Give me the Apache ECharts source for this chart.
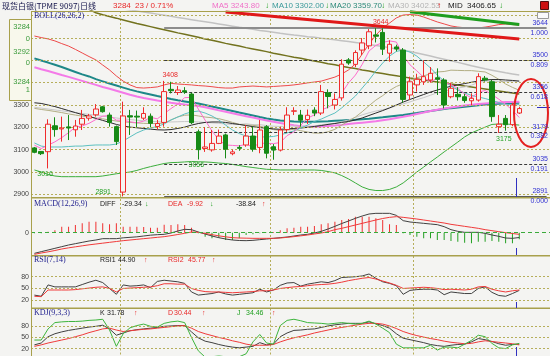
<!DOCTYPE html>
<html><head><meta charset="utf-8">
<script src="https://cdn.jsdelivr.net/npm/echarts@6/dist/echarts.min.js"></script>
<style>html,body{margin:0;padding:0;background:#f4f4f2;}#c{width:550px;height:356px;}</style>
</head><body><div id="c"></div>
<script>
const N = 72;
const categories = Array.from({length: 76}, (_, i) => 'D' + (i + 1));

const opens  = [3108,3092,3091,3207,3193,3202,3189,3214,3241,3256,3292,3255,3203,2910,3252,3250,3241,3250,3204,3222,3370,3356,3364,3349,3180,3105,3099,3128,3166,3082,3110,3121,3161,3110,3203,3113,3098,3190,3272,3255,3235,3277,3264,3355,3300,3332,3502,3482,3546,3565,3614,3625,3532,3560,3546,3345,3390,3404,3412,3422,3412,3337,3348,3337,3319,3322,3420,3404,3203,3240,3212,3264];
const closes = [3088,3082,3214,3190,3197,3197,3206,3240,3251,3282,3270,3222,3136,3251,3246,3246,3262,3218,3217,3360,3364,3367,3358,3221,3100,3112,3128,3161,3102,3090,3106,3161,3102,3188,3084,3098,3188,3255,3274,3232,3254,3264,3360,3338,3325,3483,3488,3535,3578,3628,3608,3550,3572,3551,3325,3404,3415,3427,3442,3415,3300,3375,3337,3320,3330,3427,3412,3248,3214,3212,3300,3284];
const highs  = [3112,3094,3236,3245,3248,3255,3233,3278,3260,3304,3296,3266,3208,3315,3278,3275,3290,3262,3233,3408,3404,3385,3380,3355,3190,3200,3188,3190,3172,3100,3120,3210,3203,3233,3210,3125,3203,3290,3290,3278,3280,3290,3390,3370,3352,3505,3510,3545,3600,3640,3644,3644,3590,3570,3555,3427,3440,3500,3470,3464,3420,3400,3380,3350,3352,3442,3430,3412,3255,3255,3310,3292];
const lows   = [3084,3076,3016,3158,3136,3143,3158,3188,3230,3248,3266,3203,3121,2891,3166,3200,3233,3200,3190,3203,3352,3345,3350,3215,3056,3090,3091,3125,3061,3075,3095,3113,3091,3084,3061,3055,3092,3180,3255,3203,3215,3250,3255,3285,3280,3320,3480,3470,3524,3550,3580,3524,3494,3540,3310,3322,3360,3390,3400,3345,3285,3330,3320,3310,3300,3315,3405,3225,3175,3185,3205,3260];

const bollUp = [3609,3602,3596,3587,3575,3564,3549,3533,3517,3502,3479,3457,3430,3407,3390,3378,3376,3378,3381,3390,3397,3394,3392,3390,3387,3385,3382,3378,3376,3376,3381,3383,3385,3383,3381,3383,3385,3387,3390,3394,3399,3403,3407,3416,3425,3439,3457,3484,3528,3573,3613,3645,3667,3690,3703,3705,3703,3694,3683,3672,3663,3654,3649,3646,3644,3645,3649,3654,3660,3663,3660,3658];
const bollLow = [3009,3000,2989,2982,2979,2979,2979,2979,2979,2979,2982,2987,2992,2996,3000,3007,3016,3024,3031,3038,3042,3043,3045,3047,3046,3045,3043,3040,3038,3034,3029,3024,3020,3016,3012,3011,3009,3009,3009,3009,3009,3009,3007,3002,2996,2984,2969,2951,2933,2922,2917,2917,2922,2933,2951,2975,3000,3022,3045,3067,3090,3112,3134,3157,3175,3188,3201,3213,3215,3215,3213,3210];
const bollMid = [3310,3307,3300,3293,3284,3275,3266,3257,3249,3240,3231,3222,3213,3206,3201,3198,3195,3192,3189,3188,3190,3195,3201,3210,3217,3222,3224,3224,3222,3217,3213,3208,3203,3199,3196,3193,3191,3193,3195,3197,3200,3204,3208,3213,3217,3222,3226,3233,3242,3253,3264,3275,3287,3300,3313,3325,3336,3347,3358,3367,3376,3384,3390,3396,3402,3407,3412,3414,3414,3412,3410,3407];
const ma5 = [3120,3105,3120,3135,3154,3176,3201,3206,3218,3235,3250,3253,3232,3232,3225,3220,3228,3245,3238,3261,3284,3305,3333,3334,3282,3232,3184,3144,3121,3119,3117,3124,3112,3129,3128,3127,3132,3163,3180,3209,3241,3256,3277,3290,3308,3354,3399,3434,3482,3542,3567,3580,3587,3582,3521,3480,3453,3424,3403,3421,3400,3392,3374,3349,3332,3358,3365,3347,3326,3303,3277,3244];
const ma10 = [3130,3116,3112,3112,3112,3114,3116,3116,3119,3121,3121,3121,3125,3139,3157,3175,3188,3197,3204,3215,3233,3246,3260,3269,3273,3264,3251,3233,3210,3188,3172,3161,3157,3157,3157,3159,3166,3175,3184,3197,3210,3226,3237,3251,3264,3287,3313,3340,3376,3412,3452,3488,3519,3540,3546,3537,3519,3493,3466,3434,3407,3385,3367,3354,3343,3336,3329,3320,3311,3304,3300,3302];
const ma20 = [3285,3280,3276,3271,3266,3260,3255,3250,3246,3242,3238,3233,3228,3225,3222,3220,3218,3217,3217,3219,3233,3247,3254,3256,3251,3246,3243,3239,3231,3222,3213,3210,3209,3205,3197,3190,3186,3188,3191,3185,3179,3174,3174,3180,3191,3210,3228,3246,3270,3297,3322,3342,3365,3383,3395,3411,3422,3431,3439,3448,3450,3456,3455,3454,3454,3451,3448,3433,3415,3394,3379,3366];
const ma30 = [3290,3286,3282,3278,3274,3270,3266,3262,3258,3254,3250,3246,3242,3238,3235,3232,3229,3227,3225,3224,3224,3225,3226,3226,3224,3222,3220,3218,3215,3213,3213,3216,3212,3212,3208,3205,3204,3205,3206,3204,3203,3205,3212,3215,3218,3226,3233,3244,3256,3265,3273,3279,3286,3297,3305,3314,3324,3333,3344,3355,3361,3369,3376,3381,3389,3400,3407,3407,3405,3405,3406,3407];
const longTeal = [3509,3499,3490,3480,3470,3459,3448,3437,3428,3416,3406,3396,3387,3378,3369,3361,3354,3347,3340,3334,3327,3321,3316,3311,3307,3300,3293,3287,3280,3273,3266,3260,3253,3246,3240,3235,3231,3228,3226,3225,3225,3225,3226,3227,3229,3231,3233,3234,3236,3238,3242,3245,3249,3252,3255,3260,3264,3269,3273,3278,3282,3286,3289,3292,3296,3299,3302,3304,3306,3308,3309,3310];
const longPink = [3469,3460,3452,3443,3434,3426,3417,3408,3399,3390,3381,3373,3364,3355,3346,3338,3331,3326,3320,3315,3310,3306,3302,3299,3296,3290,3283,3276,3270,3263,3256,3250,3244,3237,3231,3225,3219,3214,3209,3205,3203,3203,3204,3206,3208,3211,3215,3218,3221,3224,3227,3232,3236,3242,3247,3253,3260,3266,3273,3279,3284,3289,3293,3298,3301,3304,3307,3309,3311,3313,3314,3315];
const longOlive = [3870,3852,3834,3816,3798,3780,3762,3745,3728,3713,3704,3696,3689,3681,3673,3665,3658,3651,3644,3637,3630,3623,3617,3610,3603,3596,3590,3583,3576,3570,3564,3557,3551,3545,3539,3532,3526,3520,3514,3509,3503,3497,3491,3485,3480,3474,3468,3463,3457,3452,3446,3441,3436,3431,3426,3421,3417,3412,3407,3403,3399,3394,3390,3385,3381,3376,3372,3367,3363,3358,3354,3349];
const longGray = [3795,3790,3785,3780,3775,3770,3765,3760,3755,3750,3745,3740,3735,3730,3726,3721,3716,3712,3707,3702,3697,3692,3687,3682,3677,3673,3668,3663,3658,3653,3648,3644,3639,3634,3630,3626,3621,3617,3613,3610,3606,3603,3599,3596,3592,3588,3584,3580,3576,3571,3567,3562,3556,3551,3545,3540,3533,3526,3519,3512,3505,3498,3491,3484,3476,3469,3462,3456,3450,3444,3439,3434];

const diff = [-124,-114,-104,-94,-84,-74,-66,-58,-50,-44,-36,-36,-36,-31,-28,-25,-20,-15,-12,-10,-2,10,20,18,4,-8,-20,-30,-38,-44,-47,-48,-46,-42,-38,-34,-30,-26,-20,-14,-10,-2,8,22,38,55,70,86,100,112,116,116,116,104,72,64,60,56,52,48,36,18,8,2,2,2,-4,-14,-22,-32,-34,-29];
const dea = [-130,-122,-115,-107,-98,-91,-85,-79,-73,-68,-63,-58,-53,-48,-44,-40,-36,-32,-28,-24,-18,-11,-4,4,2,-4,-12,-19,-25,-30,-32,-33,-34,-34,-34,-34,-32,-28,-24,-19,-14,-8,-2,6,18,26,36,46,56,66,76,85,92,96,92,87,82,76,70,64,58,50,44,38,32,26,18,12,6,0,-5,-10];
const macdHist = [-3,-3,5,15,36,36,46,56,66,66,56,50,56,36,36,36,34,30,30,48,46,50,46,30,-4,-24,-34,-30,-44,-44,-34,-14,-10,-4,-2,4,15,26,30,36,36,40,50,56,66,76,82,96,96,96,86,76,50,46,-4,-14,-24,-34,-34,-44,-44,-50,-54,-60,-64,-54,-54,-50,-54,-64,-64,-39];

const rsi1 = [33,30,59,54,54,54,54,60,66,71,65,50,35,59,56,57,59,52,68,71,69,67,63,41,33,35,37,41,36,33,35,37,39,48,41,46,58,64,65,56,61,64,67,65,70,78,79,80,82,87,76,67,63,57,35,45,47,48,48,46,34,41,39,37,37,50,54,40,32,30,37,45];
const rsi2 = [30,29,46,46,46,46,47,49,51,53,54,50,41,50,51,52,53,54,57,62,62,61,61,50,45,42,41,41,40,39,40,41,42,44,44,46,50,52,54,55,57,59,60,61,63,66,70,73,76,78,74,69,64,58,50,51,52,53,52,50,47,48,47,46,48,54,55,48,44,41,44,46];
const kdjK = [30,35,52,60,65,69,72,75,78,80,83,73,56,62,68,71,73,75,77,80,81,82,82,65,49,40,36,31,27,24,22,24,26,36,30,32,52,62,69,70,72,73,77,81,84,86,88,88,88,92,87,82,75,60,48,44,40,36,31,28,26,29,31,32,38,47,44,39,33,29,31,32];
const kdjD = [26,30,35,39,43,47,52,57,63,68,73,75,70,66,68,70,72,73,75,77,79,81,82,75,66,60,55,50,46,41,37,32,29,29,29,31,38,44,49,53,57,62,66,70,74,77,80,83,86,88,88,86,81,74,66,60,55,51,47,44,40,37,35,33,34,38,41,39,37,35,33,30];
const kdjJ = [43,43,73,90,92,93,93,94,96,97,99,70,26,60,76,82,86,80,78,88,92,94,90,50,14,-3,-2,0,-2,-4,-2,6,38,58,35,32,82,96,99,95,90,89,88,86,88,90,88,86,88,94,86,75,63,32,22,22,22,22,29,16,24,24,22,32,42,56,52,34,22,20,30,34];

const priceTicks = [2900,3000,3100,3200,3300,3400,3500,3600,3700];
const priceTickLabels = ['2900','3000','3100','3200','3300'];
const fibValues = [3644,3500,3356,3179,3035,2891];
const fibRatios = ['1.000','0.809','0.618','0.382','0.191','0.000'];
const fibStartIndex = 19;
const annotIndex = [19,51,2,13,24,68];
const annotValue = [3408,3644,3016,2891,3056,3175];
const trendRed = [[28,3716],[71,3596]];
const trendGreen = [[55,3718],[71,3661]];
const oscTicks = [20,50,80];
const monthSplits = [13,35,56];

[['opens',opens],['closes',closes],['highs',highs],['lows',lows],['bollUp',bollUp],['bollLow',bollLow],['bollMid',bollMid],['ma5',ma5],['ma10',ma10],['ma20',ma20],['ma30',ma30],['longTeal',longTeal],['longPink',longPink],['longOlive',longOlive],['longGray',longGray],['diff',diff],['dea',dea],['macdHist',macdHist],['rsi1',rsi1],['rsi2',rsi2],['kdjK',kdjK],['kdjD',kdjD],['kdjJ',kdjJ]].forEach(([n,a])=>{ if(a.length!==N) throw new Error(n+' has '+a.length); });

const FONT = '"Liberation Sans","DejaVu Sans","Noto Sans CJK SC",sans-serif';
const SERIF = '"Liberation Serif","DejaVu Serif",serif';
const BG = '#f4f4f2';
const OLIVE = '#a8a04c';
const GDASH = '#b6ae5a';
const RED = '#e82828';
const GREEN = '#22a022';
const NAVY = '#1c1c8c';

const chart = echarts.init(document.getElementById('c'));

const grids = [
  {left:31, right:0, top:11, height:186},
  {left:31, right:0, top:199, height:56},
  {left:31, right:0, top:256, height:52},
  {left:31, right:0, top:308.5, height:50}
];
const xAxes = grids.map((g, i) => ({
  type:'category', gridIndex:i, data:categories, boundaryGap:true,
  axisLine:{show:false}, axisTick:{show:false}, axisLabel:{show:false},
  splitLine:{show:true, interval:(idx)=>monthSplits.includes(idx), lineStyle:{color:GDASH, type:[2,2], width:1}}
}));
const yBase = {axisLine:{show:false}, axisTick:{show:false}, axisLabel:{show:false}, splitLine:{show:false}};
const yAxes = [
  Object.assign({gridIndex:0, min:2888, max:3721}, yBase),
  Object.assign({gridIndex:1, min:-134, max:202}, yBase),
  Object.assign({gridIndex:2, min:0, max:133}, yBase),
  Object.assign({gridIndex:3, min:0, max:128}, yBase)
];

function line(name, data, color, width, xi, yi, z) {
  return {name, type:'line', data, xAxisIndex:xi||0, yAxisIndex:yi||0, symbol:'none', silent:true,
    lineStyle:{color, width:width||1}, z:z||2, clip:true, animation:false};
}
function hLine(v, color, type, label) {
  return {yAxis:v, lineStyle:{color, type, width:1},
    label: label ? {show:true, position:'start', formatter:label, color:'#444', fontSize:7, fontFamily:FONT, distance:2} : {show:false}};
}

const mainMarkLines = priceTicks.map(v => hLine(v, GDASH, [2,2], priceTickLabels.includes(String(v)) ? String(v) : null));
fibValues.forEach((v, k) => {
  const solid = (k === 0 || k === fibValues.length - 1);
  const ls = solid ? {color: k===0 ? '#8c8c8c' : '#5a5a5a', width:2, type:'solid'} : {color:'#3a3a3a', width:1, type:[3,2]};
  mainMarkLines.push([{coord:[categories[fibStartIndex], v], lineStyle:ls, label:{show:false}}, {coord:[categories[75], v]}]);
});
mainMarkLines.push([{coord:[categories[trendRed[0][0]], trendRed[0][1]], lineStyle:{color:'#e01818', width:3, type:'solid'}, label:{show:false}}, {coord:[categories[trendRed[1][0]], trendRed[1][1]]}]);
mainMarkLines.push([{coord:[categories[trendGreen[0][0]], trendGreen[0][1]], lineStyle:{color:'#1e9e1e', width:3, type:'solid'}, label:{show:false}}, {coord:[categories[trendGreen[1][0]], trendGreen[1][1]]}]);

const annotStyle = [
  {c:RED, o:[6,-6]}, {c:RED, o:[-2,-6]}, {c:GREEN, o:[-3,6]}, {c:GREEN, o:[-20,-4]}, {c:GREEN, o:[-2,6]}, {c:GREEN, o:[5,6]}
];

const candleData = opens.map((o, i) => [o, closes[i], lows[i], highs[i]]);

const series = [
  line('longGray', longGray, '#c2c2c2', 1.5),
  line('longOlive', longOlive, '#72721e', 1.5),
  line('longTeal', longTeal, '#1e8888', 2),
  line('longPink', longPink, '#f47ae8', 2),
  line('MA30', ma30, '#c8c8c8', 1),
  line('MA20', ma20, '#b2ae84', 1),
  line('MID', bollMid, '#2a2a2a', 1),
  line('UPPER', bollUp, '#ee4a4a', 1),
  line('LOWER', bollLow, '#3cae3c', 1),
  line('MA10', ma10, '#5cc0c0', 1),
  line('MA5', ma5, '#ff6ccc', 1),
  {
    name:'K', type:'candlestick', data:candleData, xAxisIndex:0, yAxisIndex:0, barWidth:5, z:5, silent:true, animation:false,
    itemStyle:{color:BG, color0:'#168a16', borderColor:'#f02c2c', borderColor0:'#168a16', borderWidth:1},
    markLine:{symbol:['none','none'], silent:true, animation:false, data:mainMarkLines},
    markPoint:{symbol:'circle', symbolSize:0, silent:true, animation:false,
      data: annotIndex.map((ix, k) => ({coord:[categories[ix], annotValue[k]], value:annotValue[k],
        itemStyle:{color:'transparent'},
        label:{show:true, formatter:String(annotValue[k]), color:annotStyle[k].c, fontSize:7, fontFamily:FONT, offset:annotStyle[k].o}}))}
  },
  {
    name:'MACD', type:'bar', data:macdHist, xAxisIndex:1, yAxisIndex:1, barWidth:1, silent:true, animation:false,
    itemStyle:{color:(p)=> p.value >= 0 ? '#f03030' : '#22a022'},
    markLine:{symbol:['none','none'], silent:true, animation:false, data:[
      {yAxis:0, lineStyle:{color:'#3aaa3a', type:[4,3], width:1}, label:{show:true, position:'start', formatter:'0', color:'#444', fontSize:7, fontFamily:FONT, distance:2}}
    ]}
  },
  line('DIFF', diff, '#404040', 1, 1, 1, 3),
  line('DEA', dea, '#f03a3a', 1, 1, 1, 3),
  Object.assign(line('RSI1', rsi1, '#404040', 1, 2, 2, 3), {
    markLine:{symbol:['none','none'], silent:true, animation:false, data: oscTicks.map(v => hLine(v, GDASH, [2,2], String(v)))}
  }),
  line('RSI2', rsi2, '#f03a3a', 1, 2, 2, 3),
  Object.assign(line('Kline', kdjK, '#404040', 1, 3, 3, 3), {
    markLine:{symbol:['none','none'], silent:true, animation:false, data: oscTicks.map(v => hLine(v, GDASH, [2,2], String(v)))}
  }),
  line('D', kdjD, '#f03a3a', 1, 3, 3, 3),
  line('J', kdjJ, '#3cb43c', 1, 3, 3, 3)
];

chart.setOption({
  backgroundColor: BG,
  animation:false,
  grid: grids,
  xAxis: xAxes,
  yAxis: yAxes,
  series
});

function txt(text, x, y, fill, opts) {
  opts = opts || {};
  return {type:'text', z:100, silent:true, style:{text, x, y, fill, font:(opts.font || ('7px ' + FONT)), textAlign:opts.align||'left', textVerticalAlign:'middle'}};
}
function seg(x1, y1, x2, y2, color, w) {
  return {type:'line', z:90, silent:true, shape:{x1, y1, x2, y2}, style:{stroke:color, lineWidth:w||1}};
}
const F8 = '8px ' + FONT;
const els = [];
els.push(seg(31, 11.5, 550, 11.5, OLIVE, 1));
els.push(seg(31.5, 11, 31.5, 356, OLIVE, 1));
els.push(seg(31, 197.8, 550, 197.8, OLIVE, 1.5));
els.push(seg(31, 255.8, 550, 255.8, OLIVE, 1.5));
els.push(seg(31, 308.3, 550, 308.3, OLIVE, 1.5));
els.push({type:'rect', z:95, silent:true, shape:{x:9.5, y:19.5, width:22, height:81}, style:{fill:'#f8f8ec', stroke:OLIVE, lineWidth:1}});
[['3284',27.3],['0',39.3],['3292',51.7],['0',63.3],['3284',81.7],['1',90]].forEach(([t,y]) => els.push(txt(t, 30, y, '#3a9a3a', {align:'right', font:'7.5px ' + FONT})));
els.push(txt('现货白银(TPME 9097)日线', 2, 6, '#14144a', {font:'8px "Noto Sans CJK SC","Liberation Sans",sans-serif'}));
els.push(txt('3284', 113, 6, RED, {font:F8}));
els.push(txt('23 / 0.71%', 135, 6, RED, {font:F8}));
els.push(txt('MA5 3243.80', 212, 6, '#f070c8', {font:F8}));
els.push(txt('↓', 265, 6, GREEN, {font:F8}));
els.push(txt('MA10 3302.00', 272, 6, '#3a9a9a', {font:F8}));
els.push(txt('↓', 325, 6, GREEN, {font:F8}));
els.push(txt('MA20 3359.70', 330, 6, '#2e8a7a', {font:F8}));
els.push(txt('↓', 381, 6, GREEN, {font:F8}));
els.push(txt('MA30 3402.53', 388, 6, '#b4b4b4', {font:F8}));
els.push(txt('↑', 437, 6, RED, {font:F8}));
els.push(txt('MID', 448, 6, '#202020', {font:F8}));
els.push(txt('3406.65', 467, 6, '#202020', {font:F8}));
els.push(txt('↓', 499, 6, GREEN, {font:F8}));
els.push({type:'rect', z:95, silent:true, shape:{x:540.5, y:1.5, width:8, height:8}, style:{fill:'#cc1010', stroke:'#501010', lineWidth:1}});
els.push(seg(542.5, 5.5, 546.5, 5.5, '#300000', 1));
els.push({type:'rect', z:95, silent:true, shape:{x:537.5, y:12.5, width:11, height:6}, style:{fill:'#fafafa', stroke:'#9a9a9a', lineWidth:1}});
const SF = '8px ' + SERIF;
els.push(txt('BOLL(26,26,2)', 34, 16, NAVY, {font:SF}));
els.push(txt('MACD(12,26,9)', 34, 204, NAVY, {font:SF}));
els.push(txt('DIFF', 100, 204, '#202020'));
els.push(txt('-29.34', 122, 204, '#202020'));
els.push(txt('↓', 145, 204, GREEN));
els.push(txt('DEA', 168, 204, RED));
els.push(txt('-9.92', 187, 204, RED));
els.push(txt('↓', 210, 204, GREEN));
els.push(txt('-38.84', 236, 204, '#202020'));
els.push(txt('↑', 262, 204, RED));
els.push(txt('RSI(7,14)', 34, 260, NAVY, {font:SF}));
els.push(txt('RSI1', 100, 260, '#202020'));
els.push(txt('44.90', 118, 260, '#202020'));
els.push(txt('↑', 144, 260, RED));
els.push(txt('RSI2', 168, 260, RED));
els.push(txt('45.77', 188, 260, RED));
els.push(txt('↑', 212, 260, RED));
els.push(txt('KDJ(9,3,3)', 34, 313, NAVY, {font:SF}));
els.push(txt('K', 100, 313, '#202020'));
els.push(txt('31.78', 107, 313, '#202020'));
els.push(txt('↑', 134, 313, RED));
els.push(txt('D', 168, 313, RED));
els.push(txt('30.44', 174, 313, RED));
els.push(txt('↑', 202, 313, RED));
els.push(txt('J', 237, 313, GREEN));
els.push(txt('34.46', 246, 313, GREEN));
els.push(txt('↑', 272, 313, RED));
fibValues.forEach((v, k) => {
  const p = chart.convertToPixel({xAxisIndex:0, yAxisIndex:0}, [categories[75], v]);
  els.push(txt(String(v), 548, p[1] - 5, '#3232d2', {align:'right'}));
  els.push(txt(fibRatios[k], 548, p[1] + 4.5, '#3232d2', {align:'right'}));
});
const BLUE = '#3030c0';
els.push(seg(516.5, 178, 516.5, 197, BLUE, 1));
els.push(seg(516.5, 248, 516.5, 255, BLUE, 1));
els.push(seg(516.5, 302, 516.5, 308, BLUE, 1));
els.push(seg(516.5, 347, 516.5, 356, BLUE, 1));
els.push(seg(537, 107.5, 550, 107.5, BLUE, 1));
els.push({type:'ellipse', z:99, silent:true, shape:{cx:531, cy:113, rx:17, ry:34}, style:{fill:'none', stroke:'#e42020', lineWidth:2}});

chart.setOption({graphic:{elements:els}});
</script>
</body></html>
